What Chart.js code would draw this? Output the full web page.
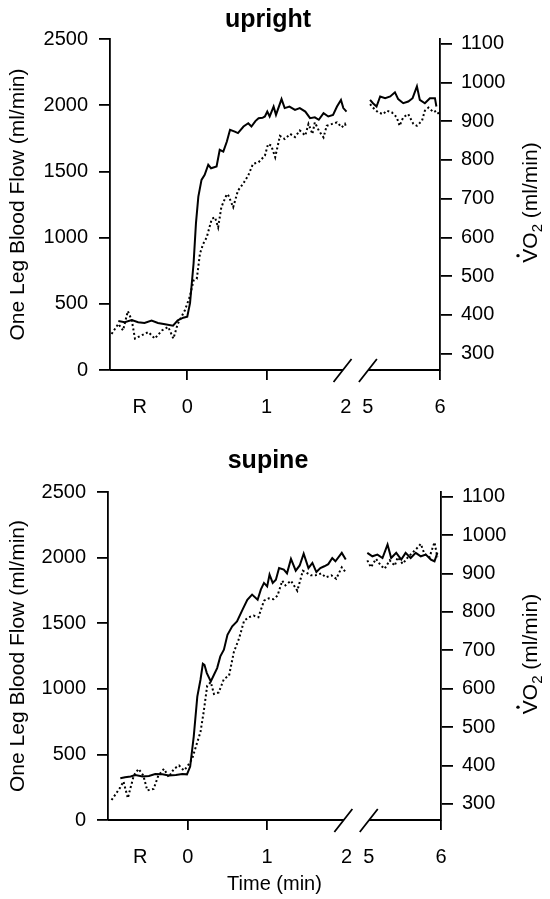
<!DOCTYPE html>
<html lang="en">
<head>
<meta charset="UTF-8" />
<title>One leg blood flow and VO2 - upright / supine</title>
<script src="https://cdn.jsdelivr.net/npm/chart.js"></script>
<style>
  body { margin: 0; background: #fff; }
  #wrap { position: relative; width: 550px; height: 899px; }
  .panel { position: absolute; left: 0; }
</style>
</head>
<body>
<div id="wrap">
  <canvas id="chartUpright" class="panel" width="550" height="440" style="top:0"></canvas>
  <canvas id="chartSupine" class="panel" width="550" height="459" style="top:440px"></canvas>
</div>
<script>
// x axis: time in min, "R" = rest before 0; axis is broken between 2 and 5 min
const xTickTimes = [-0.6, 0, 1, 2, 5, 6];
const xTickLabels = ["R", "0", "1", "2", "5", "6"];
const flowTicks = [0, 500, 1000, 1500, 2000, 2500];
const vo2Ticks = [300, 400, 500, 600, 700, 800, 900, 1000, 1100];

// upright - one leg blood flow (ml/min), solid line
const uprightFlowTime = [-0.87, -0.79, -0.70, -0.62, -0.54, -0.45, -0.37, -0.28, -0.18, -0.12,
  -0.05, 0.0, 0.035, 0.08, 0.11, 0.14, 0.18, 0.22, 0.265, 0.30, 0.33, 0.37, 0.41, 0.455, 0.50,
  0.54, 0.60, 0.64, 0.71, 0.77, 0.81, 0.86, 0.90, 0.95, 0.98, 1.01, 1.04, 1.09, 1.12, 1.19,
  1.23, 1.29, 1.36, 1.42, 1.49, 1.55, 1.61, 1.66, 1.72, 1.78, 1.84, 1.89, 1.94, 1.97, 2.01,
  5.03, 5.07, 5.12, 5.17, 5.24, 5.31, 5.375, 5.42, 5.49, 5.56, 5.62, 5.68, 5.72, 5.79, 5.86, 5.93, 5.95];
const uprightFlow = [370, 361, 378, 361, 355, 373, 355, 345, 335, 375,
  395, 403, 505, 806, 1109, 1310, 1436, 1474, 1550, 1524, 1530, 1537, 1663, 1650, 1726,
  1814, 1800, 1789, 1839, 1864, 1839, 1880, 1902, 1905, 1915, 1952, 1915, 1990, 1927, 2046,
  1978, 1990, 1965, 1978, 1952, 1902, 1908, 1890, 1940, 1915, 1927, 1990, 2040, 1978, 1952,
  2040, 2015, 1990, 2066, 2053, 2066, 2097, 2046, 2015, 2028, 2053, 2142, 2040, 2015, 2053, 2053, 1990];

// upright - VO2 (ml/min), dotted line
const uprightVo2Time = [-0.955, -0.87, -0.81, -0.75, -0.70, -0.66, -0.58, -0.49, -0.41, -0.32,
  -0.24, -0.175, -0.12, -0.03, 0.03, 0.08, 0.12, 0.16, 0.20, 0.245, 0.31, 0.35, 0.39, 0.43, 0.50,
  0.52, 0.58, 0.64, 0.71, 0.77, 0.83, 0.90, 0.98, 1.02, 1.06, 1.11, 1.17, 1.23, 1.30, 1.36,
  1.42, 1.49, 1.53, 1.58, 1.61, 1.66, 1.72, 1.76, 1.83, 1.89, 1.95, 1.99, 2.01,
  5.03, 5.07, 5.14, 5.21, 5.26, 5.33, 5.40, 5.44, 5.49, 5.56, 5.63, 5.68, 5.75, 5.79, 5.84, 5.91, 5.95, 6.0];
const uprightVo2 = [351, 377, 360, 410, 386, 339, 347, 356, 339, 360,
  369, 339, 377, 412, 446, 489, 493, 558, 583, 600, 648, 652, 626, 678, 712,
  708, 678, 721, 740, 760, 790, 794, 811, 841, 837, 807, 862, 854, 867, 859,
  876, 863, 893, 867, 897, 876, 858, 888, 893, 897, 884, 893, 884,
  944, 935, 923, 918, 927, 923, 910, 888, 910, 918, 893, 888, 901, 927, 935, 923, 927, 914];

// supine - one leg blood flow (ml/min), solid line
const supineFlowTime = [-0.85, -0.79, -0.72, -0.66, -0.57, -0.49, -0.41, -0.32, -0.24, -0.15,
  -0.07, -0.01, 0.03, 0.075, 0.12, 0.16, 0.19, 0.21, 0.24, 0.29, 0.33, 0.37, 0.41, 0.455, 0.50,
  0.56, 0.62, 0.69, 0.75, 0.81, 0.88, 0.92, 0.96, 1.0, 1.03, 1.07, 1.11, 1.15, 1.21, 1.25,
  1.30, 1.36, 1.41, 1.46, 1.52, 1.57, 1.62, 1.67, 1.72, 1.77, 1.82, 1.86, 1.94, 1.99,
  4.98, 5.05, 5.12, 5.19, 5.26, 5.31, 5.38, 5.45, 5.51, 5.58, 5.65, 5.72, 5.79, 5.86, 5.91, 5.95];
const supineFlow = [318, 326, 331, 343, 331, 336, 351, 348, 340, 343,
  351, 348, 407, 636, 941, 1069, 1191, 1183, 1120, 1056, 1107, 1158, 1247, 1298, 1412,
  1476, 1514, 1603, 1679, 1718, 1679, 1756, 1807, 1781, 1870, 1807, 1832, 1921, 1908, 1880,
  1990, 1900, 1940, 2030, 1920, 1960, 1890, 1920, 1934, 1950, 1997, 1972, 2036, 1985,
  2036, 2010, 2023, 1997, 2099, 1997, 2036, 1985, 2036, 1997, 2036, 2010, 2023, 1985, 1972, 2036];

// supine - VO2 (ml/min), dotted line
const supineVo2Time = [-0.96, -0.85, -0.81, -0.755, -0.68, -0.62, -0.56, -0.51, -0.43, -0.37,
  -0.30, -0.24, -0.175, -0.11, -0.05, -0.01, 0.055, 0.12, 0.16, 0.20, 0.245, 0.29, 0.33, 0.39, 0.455,
  0.52, 0.58, 0.645, 0.71, 0.77, 0.83, 0.89, 0.96, 1.02, 1.08, 1.13, 1.19, 1.23, 1.30, 1.38,
  1.45, 1.51, 1.55, 1.61, 1.68, 1.74, 1.81, 1.87, 1.94, 1.99,
  4.98, 5.03, 5.10, 5.17, 5.22, 5.29, 5.36, 5.40, 5.47, 5.54, 5.61, 5.68, 5.72, 5.77, 5.84, 5.91, 5.95];
const supineVo2 = [310, 343, 358, 315, 374, 391, 374, 335, 339, 374,
  391, 370, 391, 400, 387, 396, 417, 461, 487, 539, 608, 617, 586, 590, 625,
  634, 695, 730, 777, 786, 790, 786, 829, 835, 833, 842, 881, 869, 881, 855,
  907, 900, 895, 895, 900, 890, 895, 886, 916, 903,
  934, 916, 938, 920, 912, 934, 920, 942, 925, 942, 955, 968, 977, 951, 942, 981, 942];

const FONT = '"Liberation Sans", Arial, Helvetica, sans-serif';
Chart.defaults.font.family = FONT;
Chart.defaults.color = "#000";

// broken axis: 5-6 min is drawn just after the 2 min mark
function axisX(t) {
  return t < 3 ? t : 2.28 + (t - 5) * 0.91;
}

function serie(times, values) {
  let pts = [];
  for (let i = 0; i < times.length; i++) {
    if (i > 0 && times[i - 1] < 3 && times[i] > 3) {
      pts.push({ x: axisX(times[i - 1]), y: null }); // gap at the break
    }
    pts.push({ x: axisX(times[i]), y: values[i] });
  }
  return pts;
}

// axis line with the break marks, right axis title and panel title
const breakAxis = {
  id: "breakAxis",
  afterDraw(chart, args, opts) {
    const { ctx, chartArea } = chart;
    const x = chart.scales.x;
    const y0 = chartArea.bottom;
    const b1 = x.getPixelForValue(axisX(1.96));
    const b2 = x.getPixelForValue(axisX(5));
    ctx.save();
    ctx.strokeStyle = "#000";
    ctx.lineWidth = 1.8;
    ctx.beginPath();
    ctx.moveTo(chartArea.left, y0);
    ctx.lineTo(b1, y0);
    ctx.moveTo(b2, y0);
    ctx.lineTo(chartArea.right, y0);
    [b1, b2].forEach(function (b) {
      ctx.moveTo(b - 9, y0 + 12);
      ctx.lineTo(b + 9, y0 - 11);
    });
    ctx.stroke();

    // panel title
    ctx.fillStyle = "#000";
    ctx.font = "bold 25px " + FONT;
    ctx.textAlign = "center";
    ctx.textBaseline = "middle";
    ctx.fillText(opts.title, opts.titleX, opts.titleY);

    // right title: VO2 with dot and subscript, reading bottom to top
    const cy = (chartArea.top + chartArea.bottom) / 2 - 2;
    ctx.translate(530, cy);
    ctx.rotate(-Math.PI / 2);
    ctx.textAlign = "left";
    ctx.textBaseline = "alphabetic";
    const big = "21px " + FONT;
    const small = "15px " + FONT;
    ctx.font = big;
    const wV = ctx.measureText("V").width;
    const wVO = ctx.measureText("VO").width;
    const wRest = ctx.measureText(" (ml/min)").width;
    ctx.font = small;
    const w2 = ctx.measureText("2").width;
    const total = wVO + w2 + wRest;
    let px = -total / 2;
    const base = 7;
    ctx.font = big;
    ctx.fillText("VO", px, base);
    ctx.beginPath();
    ctx.arc(px + wV / 2, base - 19, 1.7, 0, Math.PI * 2);
    ctx.fill();
    px += wVO;
    ctx.font = small;
    ctx.fillText("2", px, base + 5);
    px += w2;
    ctx.font = big;
    ctx.fillText(" (ml/min)", px, base);
    ctx.restore();
  },
};

function makePanel(id, p) {
  const axisLine = { color: "#000", width: 1.8 };
  return new Chart(document.getElementById(id), {
    type: "line",
    data: {
      datasets: [
        {
          label: "One Leg Blood Flow",
          data: serie(p.flowTime, p.flow),
          yAxisID: "y",
          borderColor: "#000",
          borderWidth: 2,
          pointRadius: 0,
          tension: 0,
        },
        {
          label: "VO2",
          data: serie(p.vo2Time, p.vo2),
          yAxisID: "y2",
          borderColor: "#000",
          borderWidth: 2,
          borderDash: [2, 2.5],
          pointRadius: 0,
          tension: 0,
        },
      ],
    },
    options: {
      responsive: false,
      animation: false,
      layout: { padding: { top: p.top, left: 0, right: 0, bottom: 0 } },
      plugins: {
        legend: { display: false },
        tooltip: { enabled: false },
        breakAxis: { title: p.title, titleX: 268, titleY: p.titleY },
      },
      scales: {
        x: {
          type: "linear",
          min: p.xMin,
          max: axisX(6),
          afterFit: function (s) { s.height = p.xHeight; },
          afterBuildTicks: function (s) {
            s.ticks = xTickTimes.map(function (t) { return { value: axisX(t) }; });
          },
          border: { display: false },
          grid: {
            drawOnChartArea: false,
            tickLength: 10,
            lineWidth: 1.8,
            tickColor: function (c) {
              return [0, 3, 4].includes(c.index) ? "rgba(0,0,0,0)" : "#000";
            },
          },
          ticks: {
            autoSkip: false,
            maxRotation: 0,
            padding: 15,
            font: { size: 20 },
            callback: function (v, i) { return xTickLabels[i]; },
          },
          title: {
            display: p.showTime,
            text: "Time (min)",
            font: { size: 20 },
            padding: { top: 0, bottom: 3 },
          },
        },
        y: {
          position: "left",
          min: 0,
          max: 2500,
          afterFit: function (s) { s.width = p.left; },
          afterBuildTicks: function (s) {
            s.ticks = flowTicks.map(function (v) { return { value: v }; });
          },
          border: axisLine,
          grid: { drawOnChartArea: false, tickLength: 11, lineWidth: 1.8, color: "#000" },
          ticks: {
            padding: 11,
            font: { size: 20 },
            callback: function (v) { return String(v); },
          },
          title: {
            display: true,
            text: "One Leg Blood Flow (ml/min)",
            font: { size: 21 },
            padding: { top: 6, bottom: 0 },
          },
        },
        y2: {
          position: "right",
          min: 258,
          max: 1112,
          afterFit: function (s) { s.width = p.right; },
          afterBuildTicks: function (s) {
            s.ticks = vo2Ticks.map(function (v) { return { value: v }; });
          },
          border: axisLine,
          grid: { drawOnChartArea: false, tickLength: 12, lineWidth: 1.8, color: "#000" },
          ticks: {
            padding: 9,
            font: { size: 20 },
            callback: function (v) { return String(v); },
          },
        },
      },
    },
    plugins: [breakAxis],
  });
}

makePanel("chartUpright", {
  title: "upright", titleY: 20, top: 39, xHeight: 70, left: 110, right: 110, xMin: -0.975,
  showTime: false,
  flowTime: uprightFlowTime, flow: uprightFlow, vo2Time: uprightVo2Time, vo2: uprightVo2,
});

makePanel("chartSupine", {
  title: "supine", titleY: 21, top: 52, xHeight: 79, left: 108, right: 109, xMin: -1.005,
  showTime: true,
  flowTime: supineFlowTime, flow: supineFlow, vo2Time: supineVo2Time, vo2: supineVo2,
});
</script>
</body>
</html>
